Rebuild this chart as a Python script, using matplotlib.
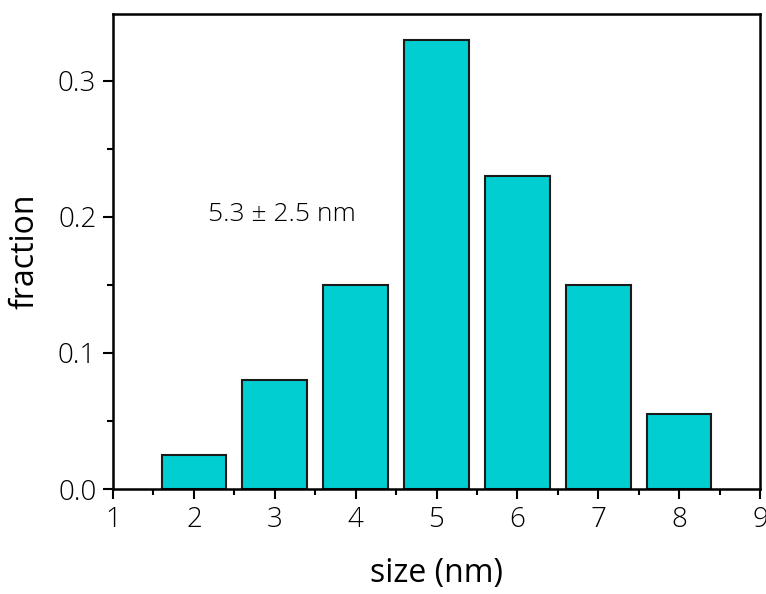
import matplotlib
matplotlib.use("Agg")
import matplotlib.pyplot as plt
from matplotlib.ticker import MultipleLocator

sizes = [2, 3, 4, 5, 6, 7, 8]
fractions = [0.025, 0.080, 0.150, 0.330, 0.230, 0.150, 0.055]
xticks = [1, 2, 3, 4, 5, 6, 7, 8, 9]
yticks = [0.0, 0.1, 0.2, 0.3]

plt.rcParams['font.family'] = ['Open Sans', 'DejaVu Sans']
plt.rcParams['font.weight'] = 'light'

fig = plt.figure(figsize=(7.66, 5.94), dpi=100)
ax = fig.add_axes([113/766, 1-489/594, (760-113)/766, (489-14)/594])

ax.bar(sizes, fractions, width=0.8, color='#00CED1', edgecolor='#1a1a1a', linewidth=1.5)

ax.set_xlim(1, 9)
ax.set_ylim(0, 0.349)
ax.set_xticks(xticks)
ax.set_yticks(yticks)
ax.set_yticklabels([f"{v:.1f}" for v in yticks])
ax.xaxis.set_minor_locator(MultipleLocator(0.5))
ax.yaxis.set_minor_locator(MultipleLocator(0.05))
ax.tick_params(which='both', direction='out', top=False, right=False, width=1.5)
ax.tick_params(which='major', length=7, labelsize=20, pad=5)
ax.tick_params(which='minor', length=4)
for s in ax.spines.values():
    s.set_linewidth(1.8)

ax.set_xlabel('size (nm)', fontsize=23, labelpad=17)
ax.set_ylabel('fraction', fontsize=23, labelpad=12)
ax.text(2.17, 0.202, '5.3 \u00b1 2.5 nm', fontsize=19, va='center', ha='left')

fig.savefig('out.png', dpi=100)
